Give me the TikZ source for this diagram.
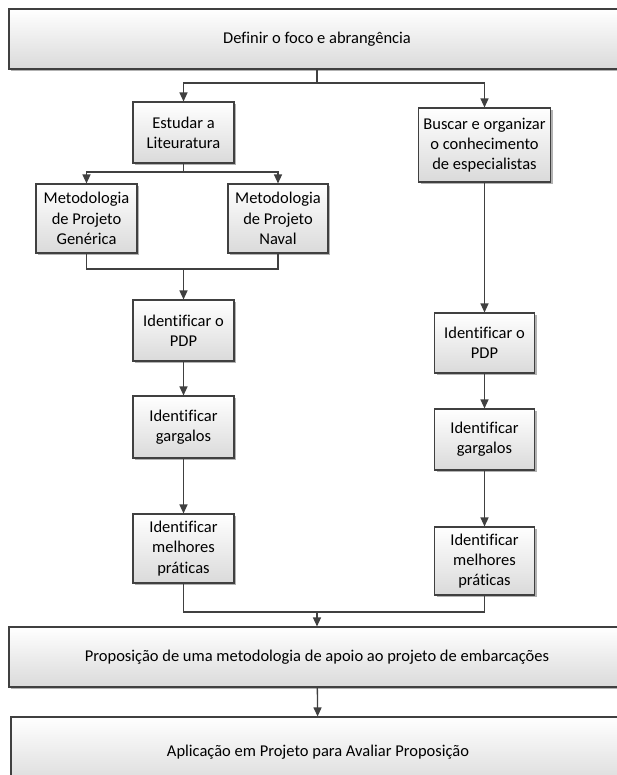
\documentclass[tikz,border=0pt]{standalone}
\usepackage{fontspec}
\setmainfont[Ligatures=NoCommon]{Carlito}
\usetikzlibrary{arrows.meta,shadows}
\definecolor{lin}{HTML}{404040}
\definecolor{boxbot}{HTML}{DADADA}
\tikzset{
  stepbox/.style={draw=lin, line width=1.1pt, top color=white, bottom color=boxbot,
    drop shadow={shadow xshift=2pt, shadow yshift=-2pt, fill=black, opacity=0.3},
    align=center, inner sep=2pt, font=\fontsize{16.5}{20.3}\selectfont, text=black},
  conn/.style={draw=lin, line width=1.3pt},
  arr/.style={conn, -{Triangle[length=9pt,width=8pt]}}
}
\begin{document}
\begin{tikzpicture}[x=1pt,y=-1pt]
\clip (0,0) rectangle (617,775);
\fill[white] (0,0) rectangle (617,775);
\node[stepbox, minimum width=616pt, minimum height=60pt] (top) at (317,39) {Definir o foco e abrangência};
\node[stepbox, minimum width=101pt, minimum height=61pt] (est) at (183.5,132.5) {Estudar a\\Liteuratura};
\node[stepbox, minimum width=132pt, minimum height=74pt] (bus) at (484.5,145) {Buscar e organizar\\o conhecimento\\de especialistas};
\node[stepbox, minimum width=101pt, minimum height=69pt] (metg) at (86.5,218.5) {Metodologia\\de Projeto\\Genérica};
\node[stepbox, minimum width=100pt, minimum height=69pt] (metn) at (278,218.5) {Metodologia\\de Projeto\\Naval};
\node[stepbox, minimum width=101pt, minimum height=61pt] (pdpl) at (183.5,330.5) {Identificar o\\PDP};
\node[stepbox, minimum width=101pt, minimum height=62pt] (garl) at (183.5,427) {Identificar\\gargalos};
\node[stepbox, minimum width=101pt, minimum height=69pt] (mell) at (183.5,548.5) {Identificar\\melhores\\práticas};
\node[stepbox, minimum width=100pt, minimum height=60pt] (pdpr) at (484.5,343) {Identificar o\\PDP};
\node[stepbox, minimum width=100pt, minimum height=61pt] (garr) at (484.5,439.5) {Identificar\\gargalos};
\node[stepbox, minimum width=100pt, minimum height=68pt] (melr) at (484.5,561) {Identificar\\melhores\\práticas};
\node[stepbox, minimum width=616pt, minimum height=60pt] (prop) at (317,657) {Proposição de uma metodologia de apoio ao projeto de embarcações};
\node[stepbox, minimum width=614pt, minimum height=70pt] (apl) at (318,752) {Aplicação em Projeto para Avaliar Proposição};
% connectors
\coordinate (s1) at (317,83);
\draw[conn] (top.south) -- (s1);
\draw[arr] (s1) -| (est.north);
\draw[arr] (s1) -| (bus.north);
\coordinate (s2) at (183.5,172);
\draw[conn] (est.south) -- (s2);
\draw[arr] (s2) -| (metg.north);
\draw[arr] (s2) -| (metn.north);
\coordinate (j1) at (183.5,269);
\draw[conn] (metg.south) |- (j1);
\draw[conn] (metn.south) |- (j1);
\draw[arr] (j1) -- (pdpl.north);
\draw[arr] (pdpl) -- (garl);
\draw[arr] (garl) -- (mell);
\draw[arr] (bus) -- (pdpr);
\draw[arr] (pdpr) -- (garr);
\draw[arr] (garr) -- (melr);
\coordinate (j2) at (317,612);
\draw[conn] (mell.south) |- (j2);
\draw[conn] (melr.south) |- (j2);
\draw[arr] (j2) -- (prop.north);
\draw[arr] (prop) -- (apl);
\end{tikzpicture}
\end{document}
